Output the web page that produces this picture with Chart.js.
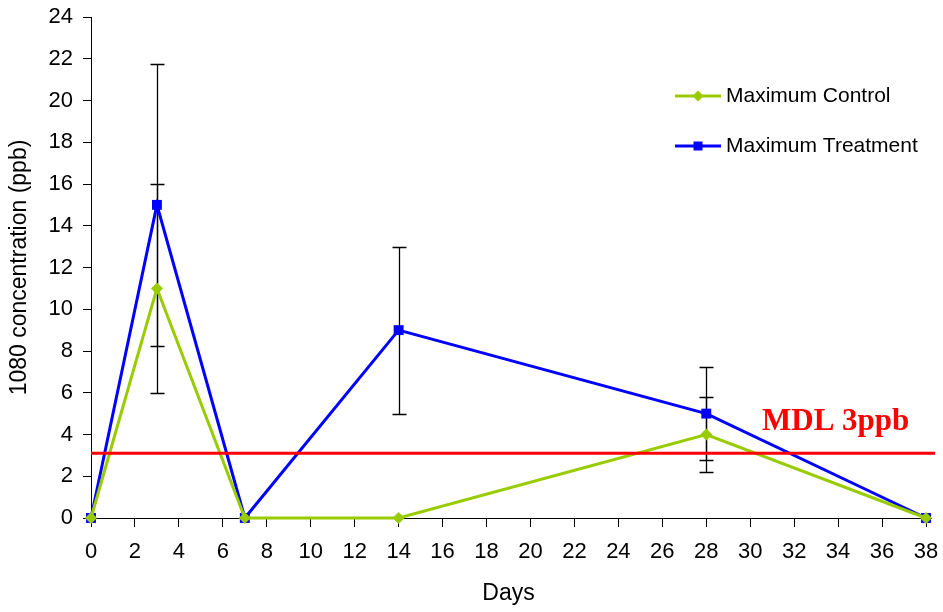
<!DOCTYPE html>
<html>
<head>
<meta charset="utf-8">
<script src="https://cdn.jsdelivr.net/npm/chart.js@4"></script>
<style>
html,body{margin:0;padding:0;background:#fff;}
#wrap{width:943px;height:612px;position:relative;}
</style>
</head>
<body>
<div id="wrap"><canvas id="c" width="943" height="612"></canvas></div>
<script>
const days = [0, 3, 7, 14, 28, 38];
const controlValues = [0, 11, 0, 0, 4, 0];
const controlErrors = [0, 5, 0, 0, 1.8, 0];
const treatmentValues = [0, 15, 0, 9, 5, 0];
const treatmentErrors = [0, 6.75, 0, 4, 2.22, 0];
const mdlValue = 3.1;
const mdlLabel = "MDL 3ppb";
const seriesNames = ["Maximum Control", "Maximum Treatment"];
const xTitle = "Days";
const yTitle = "1080 concentration (ppb)";

const GREEN = "#99CC00", BLUE = "#0000FF", RED = "#FF0000";
const SANS = "'Liberation Sans', Arial, sans-serif";

const errorBars = {
  id: "errorBars",
  beforeDatasetsDraw(chart) {
    const ctx = chart.ctx, xs = chart.scales.x, ys = chart.scales.y;
    ctx.save();
    ctx.strokeStyle = "#000";
    ctx.lineWidth = 1.3;
    chart.data.datasets.forEach(ds => {
      if (!ds.errors) return;
      ds.data.forEach((p, i) => {
        const e = ds.errors[i];
        if (!e) return;
        const x = Math.round(xs.getPixelForValue(p.x)) + 0.5;
        const y1 = ys.getPixelForValue(p.y + e), y2 = ys.getPixelForValue(p.y - e);
        ctx.beginPath();
        ctx.moveTo(x, y1); ctx.lineTo(x, y2);
        ctx.moveTo(x - 7, Math.round(y1) + 0.5); ctx.lineTo(x + 7, Math.round(y1) + 0.5);
        ctx.moveTo(x - 7, Math.round(y2) + 0.5); ctx.lineTo(x + 7, Math.round(y2) + 0.5);
        ctx.stroke();
      });
    });
    ctx.restore();
  }
};

const axisExtend = {
  id: "axisExtend",
  beforeDatasetsDraw(chart) {
    const ctx = chart.ctx, a = chart.chartArea;
    ctx.save();
    ctx.strokeStyle = "#000";
    ctx.lineWidth = 1;
    ctx.beginPath();
    ctx.moveTo(a.right, a.bottom + 0.5);
    ctx.lineTo(a.right + 6, a.bottom + 0.5);
    ctx.stroke();
    ctx.restore();
  }
};

const mdlPlugin = {
  id: "mdl",
  afterDatasetsDraw(chart) {
    const ctx = chart.ctx, ys = chart.scales.y;
    const y = ys.getPixelForValue(mdlValue);
    ctx.save();
    ctx.strokeStyle = RED;
    ctx.lineWidth = 3;
    ctx.beginPath();
    ctx.moveTo(chart.chartArea.left, y);
    ctx.lineTo(chart.chartArea.right + 9, y);
    ctx.stroke();
    ctx.fillStyle = RED;
    ctx.font = "bold 31px 'Liberation Serif', 'Times New Roman', serif";
    ctx.textBaseline = "alphabetic";
    ctx.textAlign = "left";
    ctx.fillText(mdlLabel, 762, 430);
    ctx.restore();
  }
};

const legendPlugin = {
  id: "customLegend",
  afterDraw(chart) {
    const ctx = chart.ctx;
    const items = [
      {name: seriesNames[0], color: GREEN, shape: "diamond", y: 96},
      {name: seriesNames[1], color: BLUE, shape: "square", y: 146}
    ];
    ctx.save();
    items.forEach(it => {
      ctx.strokeStyle = it.color;
      ctx.lineWidth = 3;
      ctx.beginPath();
      ctx.moveTo(675, it.y); ctx.lineTo(721, it.y);
      ctx.stroke();
      ctx.fillStyle = it.color;
      const cx = 698;
      if (it.shape === "diamond") {
        ctx.beginPath();
        ctx.moveTo(cx, it.y - 5.5); ctx.lineTo(cx + 5.5, it.y); ctx.lineTo(cx, it.y + 5.5); ctx.lineTo(cx - 5.5, it.y);
        ctx.closePath(); ctx.fill();
      } else {
        ctx.fillRect(cx - 4.5, it.y - 4.5, 9, 9);
      }
      ctx.fillStyle = "#000";
      ctx.font = "21px " + SANS;
      ctx.textBaseline = "middle";
      ctx.textAlign = "left";
      ctx.fillText(it.name, 726, it.y);
    });
    ctx.restore();
  }
};

const toPts = (vals) => vals.map((v, i) => ({x: days[i], y: v}));

new Chart(document.getElementById("c"), {
  type: "line",
  data: {
    datasets: [
      {
        label: seriesNames[0],
        data: toPts(controlValues),
        errors: controlErrors,
        borderColor: GREEN,
        backgroundColor: GREEN,
        borderWidth: 3,
        pointStyle: "rectRot",
        pointRadius: 6,
        pointBorderWidth: 0,
        pointHoverRadius: 6,
        clip: false,
        tension: 0
      },
      {
        label: seriesNames[1],
        data: toPts(treatmentValues),
        errors: treatmentErrors,
        borderColor: BLUE,
        backgroundColor: BLUE,
        borderWidth: 3,
        pointStyle: "rect",
        pointRadius: 7,
        pointBorderWidth: 0,
        pointHoverRadius: 7,
        clip: false,
        tension: 0
      }
    ]
  },
  options: {
    responsive: false,
    animation: false,
    events: [],
    layout: {padding: {top: 17, right: 17, left: 0, bottom: 0}},
    plugins: {legend: {display: false}, tooltip: {enabled: false}},
    scales: {
      x: {
        type: "linear",
        min: 0, max: 38,
        afterFit(s) { s.height = 94; s.paddingLeft = 0; s.paddingRight = 0; },
        ticks: {
          stepSize: 2,
          color: "#000",
          padding: 12,
          maxRotation: 0,
          autoSkip: false,
          font: {family: SANS, size: 22}
        },
        grid: {display: true, drawOnChartArea: false, drawTicks: true, tickLength: 9, color: "#000"},
        border: {display: true, color: "#000", width: 1},
        title: {
          display: true, text: xTitle, color: "#000", padding: {top: 4, bottom: 5},
          font: {family: SANS, size: 23}
        }
      },
      y: {
        min: 0, max: 24,
        afterFit(s) { s.width = 91; s.paddingTop = 0; s.paddingBottom = 0; },
        ticks: {
          stepSize: 2,
          color: "#000",
          padding: 10,
          font: {family: SANS, size: 22}
        },
        grid: {display: true, drawOnChartArea: false, drawTicks: true, tickLength: 8, color: "#000"},
        border: {display: true, color: "#000", width: 1},
        title: {
          display: true, text: yTitle, color: "#000", padding: {top: 6, bottom: 4},
          font: {family: SANS, size: 23}
        }
      }
    }
  },
  plugins: [axisExtend, errorBars, mdlPlugin, legendPlugin]
});
</script>
</body>
</html>
